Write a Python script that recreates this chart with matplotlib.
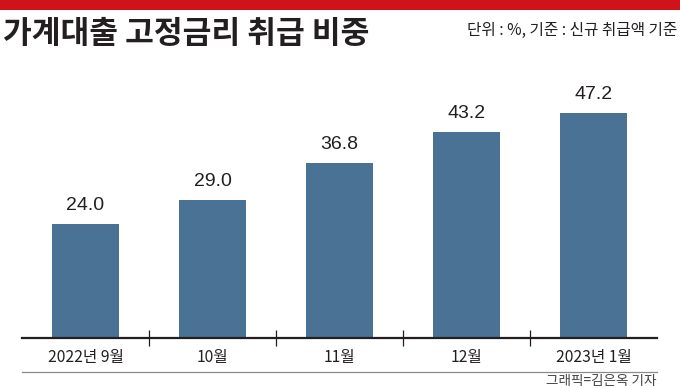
import matplotlib
matplotlib.use("Agg")
import matplotlib.pyplot as plt
from matplotlib.lines import Line2D
from matplotlib.patches import Rectangle

categories = ["2022년 9월", "10월", "11월", "12월", "2023년 1월"]
values = [24.0, 29.0, 36.8, 43.2, 47.2]
title = "가계대출 고정금리 취급 비중"
unit_note = "단위 : %, 기준 : 신규 취급액 기준"
credit = "그래픽=김은옥 기자"

W, H = 680, 388
fig = plt.figure(figsize=(W / 100, H / 100), dpi=100)
fig.patch.set_facecolor("white")

CJK = ["Noto Sans CJK KR", "DejaVu Sans"]
dark = "#231f20"
bar_color = "#4a7294"

def fx(px):
    return px / W

def fy(py):
    return 1 - py / H

# red band at top
fig.add_artist(Rectangle((0, fy(10)), 1, 10 / H, transform=fig.transFigure,
                         facecolor="#d0121b", edgecolor="none"))

fig.text(fx(3), fy(34), title, fontsize=22.5, fontweight="bold", family=CJK,
         color=dark, ha="left", va="center")
fig.text(fx(677), fy(30), unit_note, fontsize=11.3, family=CJK,
         color=dark, ha="right", va="center")

# axes
left, right = 22, 657
base = 338
ymax = 55
px_per_unit = 225 / 47.2
top = base - ymax * px_per_unit
ax = fig.add_axes([fx(left), fy(base), fx(right) - fx(left), (base - top) / H])
ax.set_xlim(-0.5, len(categories) - 0.5)
ax.set_ylim(0, ymax)
ax.patch.set_alpha(0)

x = range(len(categories))
bars = ax.bar(x, values, width=0.53, color=bar_color, zorder=2)
for xi, v in zip(x, values):
    ax.annotate(f"{v:.1f}", (xi, v), xytext=(0, 7), textcoords="offset points",
                ha="center", va="bottom", fontsize=14, family="Liberation Sans",
                color=dark)

for s in ["left", "right", "top"]:
    ax.spines[s].set_visible(False)
ax.spines["bottom"].set_color(dark)
ax.spines["bottom"].set_linewidth(1.6)
ax.set_yticks([])
ax.set_xticks(list(x))
ax.set_xticklabels(categories, family=CJK, fontsize=11.3, fontweight="medium",
                   color=dark)
ax.tick_params(axis="x", which="major", length=0, pad=8)
ax.set_xticks([i + 0.5 for i in range(len(categories) - 1)], minor=True)
ax.tick_params(axis="x", which="minor", direction="inout", length=12,
               width=0.9, color=dark)

# gray separator line and credit
fig.add_artist(Line2D([fx(left), fx(right)], [fy(372), fy(372)],
                      transform=fig.transFigure, color="#8a8a8a", linewidth=0.9))
fig.text(fx(right), fy(381), credit, fontsize=9.8, family=CJK,
         color="#444444", ha="right", va="center")

fig.savefig("out.png", dpi=100)
